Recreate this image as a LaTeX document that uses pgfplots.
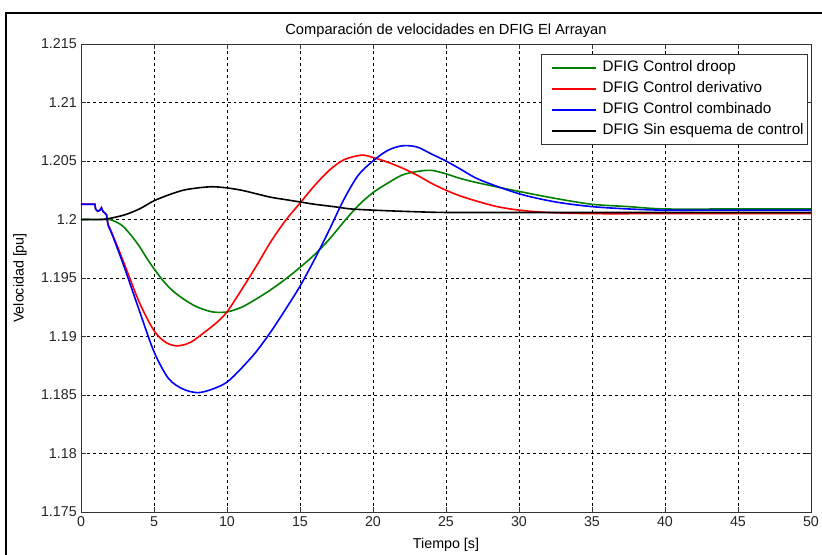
\documentclass[border=0pt]{standalone}
\usepackage{pgfplots}
\pgfplotsset{compat=1.18}
\usepackage{fontspec}
\setmainfont{Liberation Sans}
\definecolor{mgreen}{rgb}{0,0.5,0}
\newcommand{\fs}{\fontsize{10.7}{12.5}\selectfont}
\newcommand{\fl}{\fontsize{11}{13}\selectfont}
\newcommand{\fg}{\fontsize{11.45}{13.5}\selectfont}
\begin{document}
\begin{tikzpicture}
\useasboundingbox (0,0) rectangle (616.5pt,416.25pt);
\fill[white] (0,0) rectangle (616.5pt,416.25pt);
\draw[line width=1.5pt] (4.5pt,0) -- (4.5pt,406.5pt) -- (616.5pt,406.5pt);
\begin{axis}[
  at={(60.75pt,32.25pt)}, anchor=south west,
  scale only axis, width=547.5pt, height=351pt,
  xmin=0, xmax=50, ymin=1.175, ymax=1.215,
  xtick={0,5,...,50},
  ytick={1.175,1.18,1.185,1.19,1.195,1.2,1.205,1.21,1.215},
  yticklabels={1.175,1.18,1.185,1.19,1.195,1.2,1.205,1.21,1.215},
  /pgf/number format/assume math mode=true,
  tick align=inside, major tick length=4pt,
  tick style={black!80, line width=0.5pt},
  axis line style={black!80, line width=0.6pt},
  grid=major,
  major grid style={black, dash pattern=on 2.2pt off 2.2pt, line width=0.45pt},
  tick label style={font=\fs, text=black!85},
  xticklabel style={anchor=north, inner sep=0pt, yshift=-3.5pt},
  yticklabel style={anchor=east, inner sep=0pt, xshift=-3pt},
  title={Comparación de velocidades en DFIG El Arrayan},
  title style={font=\fl, at={(0.5,1)}, anchor=base, yshift=1pt, inner sep=0pt},
  xlabel={Tiempo [s]},
  ylabel={Velocidad [pu]},
  xlabel style={font=\fs, at={(axis description cs:0.5,-0.0705)}, anchor=center, inner sep=0pt},
  ylabel style={font=\fs, at={(axis description cs:-0.0836,0.5)}, anchor=center, inner sep=0pt},
  legend style={at={(0.9959,0.9786)}, anchor=north east, draw=black!80, line width=0.5pt,
    fill=white, font=\fg, inner xsep=3pt, inner ysep=4.4pt, row sep=4.3pt, column sep=4.5pt,
    nodes={inner sep=0pt, text height=8.5pt, text depth=3pt}},
  legend cell align=left,
  legend image code/.code={\path (0pt,0pt); \draw[#1] (4.5pt,0pt) -- (37.5pt,0pt);},
  every axis plot/.append style={line width=1.2pt},
]
% DFIG Control droop
\addplot[mgreen, smooth] coordinates {
(0,1.2000) (1.8,1.2000) (2.2,1.1999) (2.8,1.1995) (3.4,1.1987) (4,1.1977)
(4.5,1.1967) (5,1.1958) (5.6,1.1948) (6.2,1.1940) (6.8,1.1934) (7.4,1.1929)
(8,1.1925) (9,1.1921) (10,1.1921) (11,1.1925) (12,1.1932) (13,1.1940)
(14,1.1949) (15,1.1959) (16,1.1970) (17,1.1983) (18,1.1998) (19,1.2012)
(20,1.2023) (21,1.2031) (22,1.2038) (23,1.2041) (24,1.2042) (25,1.2039)
(26,1.2035) (27.3,1.2031) (30,1.2024) (32.5,1.2018) (35,1.2013) (37.5,1.2011)
(40,1.2009) (45,1.2009) (50,1.2009)};
\addlegendentry{DFIG Control droop}
% DFIG Control derivativo
\addplot[red, forget plot] coordinates {
(0,1.2013) (0.95,1.2013) (1.0,1.2009) (1.15,1.2007) (1.3,1.2008) (1.4,1.2010)
(1.5,1.2007) (1.75,1.2004) (1.85,1.1996)};
\addplot[red, smooth] coordinates {
(1.85,1.1996) (2.2,1.1986) (3,1.1961) (4,1.1929) (5,1.1905) (5.8,1.1895)
(6.6,1.1892) (7.5,1.1895) (8.5,1.1904) (9.3,1.1912) (10,1.1921) (11,1.1940)
(12,1.1960) (13,1.1981) (14,1.1999) (15,1.2014) (16,1.2029) (17,1.2042)
(18,1.2051) (19.2,1.2055) (20,1.2053) (21,1.2049) (22,1.2044) (23,1.2038)
(24,1.2031) (25,1.2025) (26,1.2020) (27.3,1.2015) (28.5,1.2011) (30,1.2008)
(32,1.2006) (35,1.2005) (40,1.2005) (45,1.2005) (50,1.2005)};
\addlegendentry{DFIG Control derivativo}
% DFIG Control combinado
\addplot[blue, forget plot] coordinates {
(0,1.2013) (0.95,1.2013) (1.0,1.2009) (1.15,1.2007) (1.3,1.2008) (1.4,1.2010)
(1.5,1.2007) (1.75,1.2004) (1.85,1.1995)};
\addplot[blue, smooth] coordinates {
(1.85,1.1995) (2.2,1.1985) (3,1.1958) (4,1.1922) (5,1.1887) (6,1.1864)
(7,1.1855) (8,1.1852) (9,1.1855) (10,1.1861) (11,1.1873) (12,1.1887)
(13,1.1904) (14,1.1923) (15,1.1943) (16,1.1966) (17,1.1991) (18,1.2017)
(19,1.2038) (20,1.2050) (21,1.2059) (22,1.2063) (23,1.2062) (24,1.2056)
(25,1.2050) (26,1.2043) (27.3,1.2034) (30,1.2022) (32.5,1.2015) (35,1.2011)
(37.5,1.2009) (40,1.2008) (45,1.2008) (50,1.2008)};
\addlegendentry{DFIG Control combinado}
% DFIG Sin esquema de control
\addplot[black, smooth] coordinates {
(0,1.2000) (1.5,1.2000) (2,1.2001) (3,1.2004) (4,1.2009) (5,1.2016)
(6,1.2021) (7,1.2025) (8,1.2027) (9,1.2028) (10,1.2027) (11,1.2025)
(12,1.2022) (13,1.2019) (14,1.2017) (15,1.2015) (16,1.2013) (17.3,1.2011)
(18.5,1.2009) (20,1.2008) (22,1.2007) (25,1.2006) (30,1.2006) (40,1.2006)
(50,1.2006)};
\addlegendentry{DFIG Sin esquema de control}
\end{axis}
\end{tikzpicture}
\end{document}
